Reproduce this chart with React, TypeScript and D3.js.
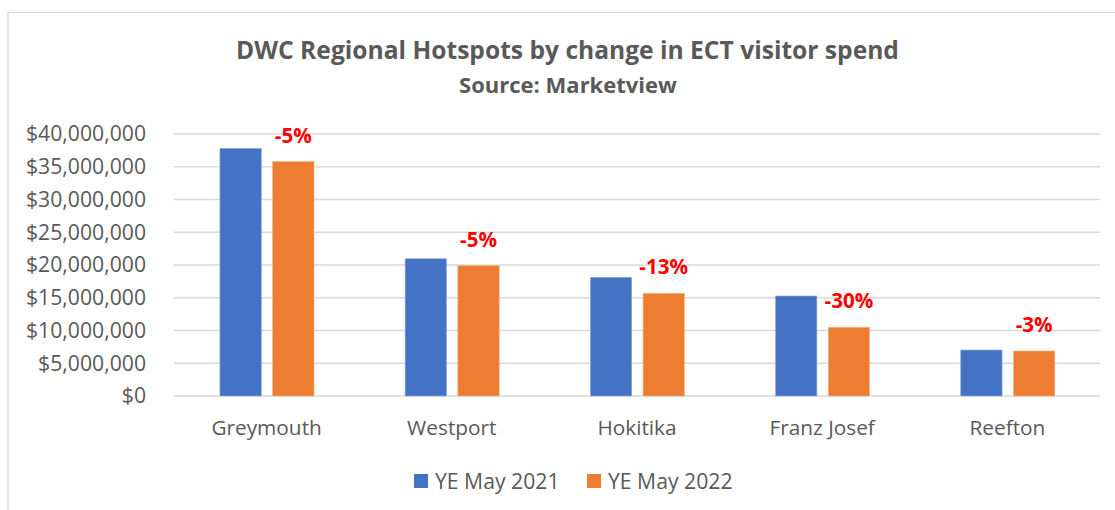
import React from "react";
import * as d3 from "d3";

const categories = ["Greymouth", "Westport", "Hokitika", "Franz Josef", "Reefton"];
const seriesNames = ["YE May 2021", "YE May 2022"];
const values2021 = [37800000, 20950000, 18120000, 15270000, 7020000];
const values2022 = [35780000, 19900000, 15680000, 10490000, 6870000];
const changeLabels = ["-5%", "-5%", "-13%", "-30%", "-3%"];
const yTicks = [0, 5000000, 10000000, 15000000, 20000000, 25000000, 30000000, 35000000, 40000000];
const colors = ["#4472C4", "#ED7D31"];

const W = 1115;
const H = 510;
const FONT = "'Open Sans', 'Noto Sans', sans-serif";
const TXT = "#595959";

export default function App() {
  const x = d3.scaleBand<string>().domain(categories).range([174, 1100]).paddingInner(0).paddingOuter(0);
  const bw = x.bandwidth();
  const xs = d3
    .scaleBand<string>()
    .domain(seriesNames)
    .range([bw * 0.248, bw * 0.756])
    .paddingInner(0.216)
    .paddingOuter(0);
  const y = d3.scaleLinear().domain([0, 40000000]).range([396, 134]);
  const fmt = (v: number) => "$" + d3.format(",")(v);
  const series = [values2021, values2022];

  return (
    <svg
      width={W}
      height={H}
      style={{ position: "absolute", left: 0, top: 0, background: "#fff" }}
      fontFamily={FONT}
    >
      <rect x={0} y={0} width={W} height={H} fill="#fff" />
      <rect x={8} y={12.5} width={W + 50} height={H + 50} fill="none" stroke="#d9d9d9" strokeWidth={1.2} />
      <text x={567.5} y={59} textAnchor="middle" fontSize={24.6} fontWeight={700} fill={TXT}>
        DWC Regional Hotspots by change in ECT visitor spend
      </text>
      <text x={568} y={93} textAnchor="middle" fontSize={22} fontWeight={700} fill={TXT}>
        Source: Marketview
      </text>
      {yTicks.map((t) => (
        <g key={t}>
          <line x1={174} x2={1100} y1={y(t)} y2={y(t)} stroke="#d9d9d9" strokeWidth={1.3} />
          <text x={146} y={y(t)} dy="0.35em" textAnchor="end" fontSize={21.2} fill={TXT}>
            {fmt(t)}
          </text>
        </g>
      ))}
      {categories.map((c, i) => (
        <g key={c} transform={`translate(${x(c)},0)`}>
          {series.map((vals, s) => (
            <rect
              key={s}
              x={xs(seriesNames[s])}
              y={y(vals[i])}
              width={xs.bandwidth()}
              height={y(0) - y(vals[i])}
              fill={colors[s]}
              stroke={s === 0 ? "#8eaadb" : "#f4b183"}
              strokeWidth={0.6}
            />
          ))}
          <text
            x={(xs(seriesNames[1]) as number) + xs.bandwidth() / 2}
            y={y(values2022[i]) - 19}
            textAnchor="middle"
            fontSize={20.6}
            fontWeight={700}
            fill="#FF0000"
          >
            {changeLabels[i]}
          </text>
          <text x={bw / 2} y={435} textAnchor="middle" fontSize={20.8} fill={TXT}>
            {c}
          </text>
        </g>
      ))}
      {seriesNames.map((n, s) => {
        const lx = s === 0 ? 414 : 587;
        return (
          <g key={n}>
            <rect x={lx} y={474} width={14} height={14} fill={colors[s]} />
            <text x={lx + 21} y={488.5} fontSize={21.2} fill={TXT}>
              {n}
            </text>
          </g>
        );
      })}
    </svg>
  );
}
